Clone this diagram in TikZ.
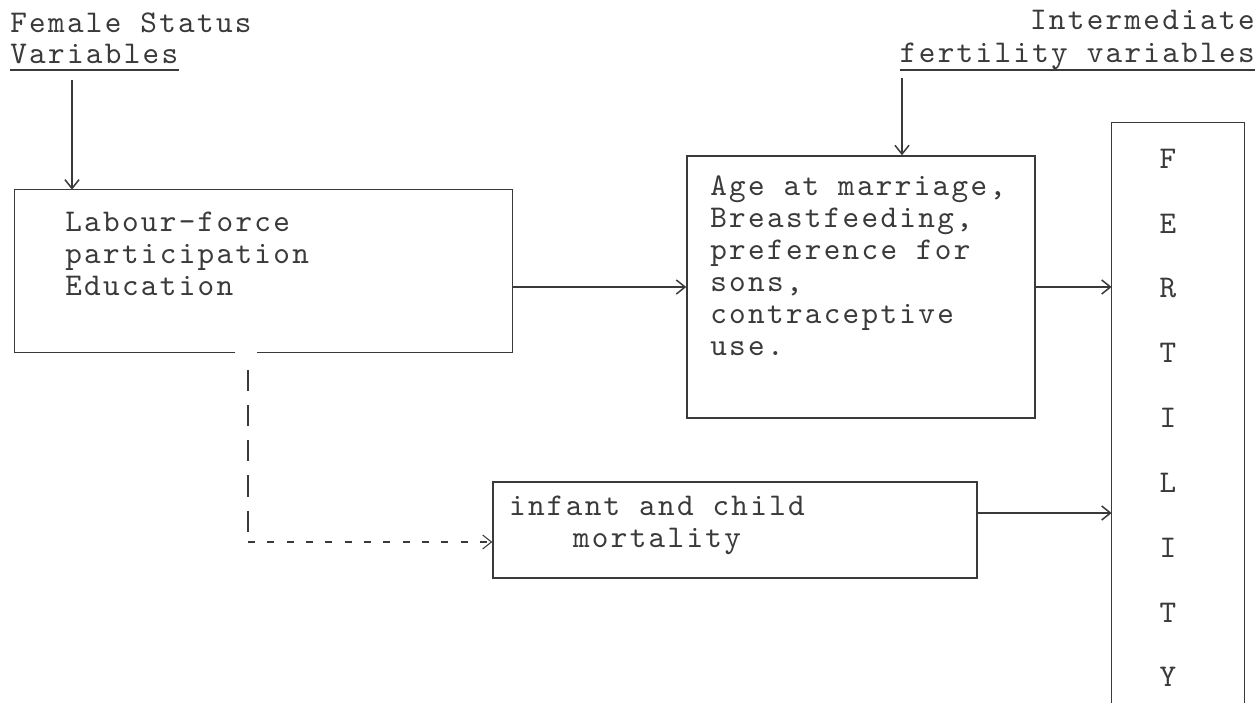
\documentclass[tikz,border=0pt]{standalone}
\usepackage{fontspec}
\usetikzlibrary{arrows.meta,calc}
\newfontfamily\tyw{lmmono10-regular}[Extension=.otf, LetterSpace=7.3]
\definecolor{ink}{HTML}{3A3A3A}
\newcommand{\fsr}{\rule{0pt}{15pt}}
\begin{document}
\begin{tikzpicture}[x=0.02cm,y=-0.02cm,
  every node/.style={inner sep=0pt, text=ink},
  tt/.style={font=\fontsize{18pt}{18.2pt}\selectfont\tyw, align=left, anchor=north west},
  hd/.style={font=\fontsize{18pt}{18.2pt}\selectfont\tyw},
  frame/.style={draw=ink, line width=0.85pt},
  arr/.style={draw=ink, line width=0.85pt, -{Straight Barb[length=5pt,width=8pt]}},
  dashv/.style={draw=ink, line width=0.6pt, dash pattern=on 12pt off 8pt},
  dashh/.style={draw=ink, line width=0.6pt, dash pattern=on 4pt off 7pt, -{Straight Barb[length=5pt,width=8pt]}}
]
\useasboundingbox[fill=white] (0,0) rectangle (1259,703);

% headers
\node[hd, anchor=base west] (fs) at (10,32) {Female Status};
\node[hd, anchor=base west] (vars) at (10,63) {Variables};
\draw[ink, line width=0.7pt] ($(vars.base west)+(0,7)$) -- ($(vars.base east)+(0,7)$);
\node[hd, anchor=base east] (im) at (1255,30) {Intermediate};
\node[hd, anchor=base east] (fv) at (1255,62) {fertility variables};
\draw[ink, line width=0.7pt] ($(fv.base west)+(0,8)$) -- ($(fv.base east)+(0,8)$);

% boxes
\node[minimum width=9.94cm, minimum height=3.24cm] (b1) at (263.5,271) {};
\node[frame, minimum width=6.96cm, minimum height=5.24cm] (age) at (861,287) {};
\node[frame, minimum width=9.68cm, minimum height=1.92cm] (mort) at (735,530) {};
\node[minimum width=2.64cm, minimum height=11.6cm] (fert) at (1178,413) {};

% box 1 outline with gap in the bottom edge
\coordinate (g0) at (235,0);
\coordinate (g1) at (257,0);
\draw[frame] (g0 |- b1.south) -- (b1.south west) -- (b1.north west) -- (b1.north east) -- (b1.south east) -- (g1 |- b1.south);
% fertility outline (open below the page)
\draw[frame] (fert.south west) -- (fert.north west) -- (fert.north east) -- (fert.south east);

% texts
\node[tt] (t1) at (65,204.5) {\fsr Labour-force\\participation\\Education};
\node[tt] (t2) at (710,168.5) {\fsr Age at marriage,\\Breastfeeding,\\preference for\\sons,\\contraceptive\\use.};
\node[tt, align=center, anchor=north] (t3) at (657,489) {\fsr infant and child\\mortality};
\node[font=\fontsize{18pt}{36.9pt}\selectfont\tyw, align=center, anchor=north] (letters) at (1168,141.5) {\fsr F\\E\\R\\T\\I\\L\\I\\T\\Y};

% connectors
\coordinate (hl) at (72,80);
\draw[arr] (hl) -- (hl |- b1.north);
\coordinate (hr) at (902,78);
\draw[arr] (hr) -- (hr |- age.north);
\coordinate (y1) at (0,287);
\draw[arr] (b1.east |- y1) -- (age.west |- y1);
\draw[arr] (age.east |- y1) -- (fert.west |- y1);
\coordinate (y2) at (0,513);
\draw[arr] (mort.east |- y2) -- (fert.west |- y2);
\coordinate (d0) at (248,370);
\coordinate (d1) at (248,542);
\draw[dashv] (d0) -- (d1);
\draw[dashh] (d1) -- (mort.west |- d1);
\end{tikzpicture}
\end{document}
